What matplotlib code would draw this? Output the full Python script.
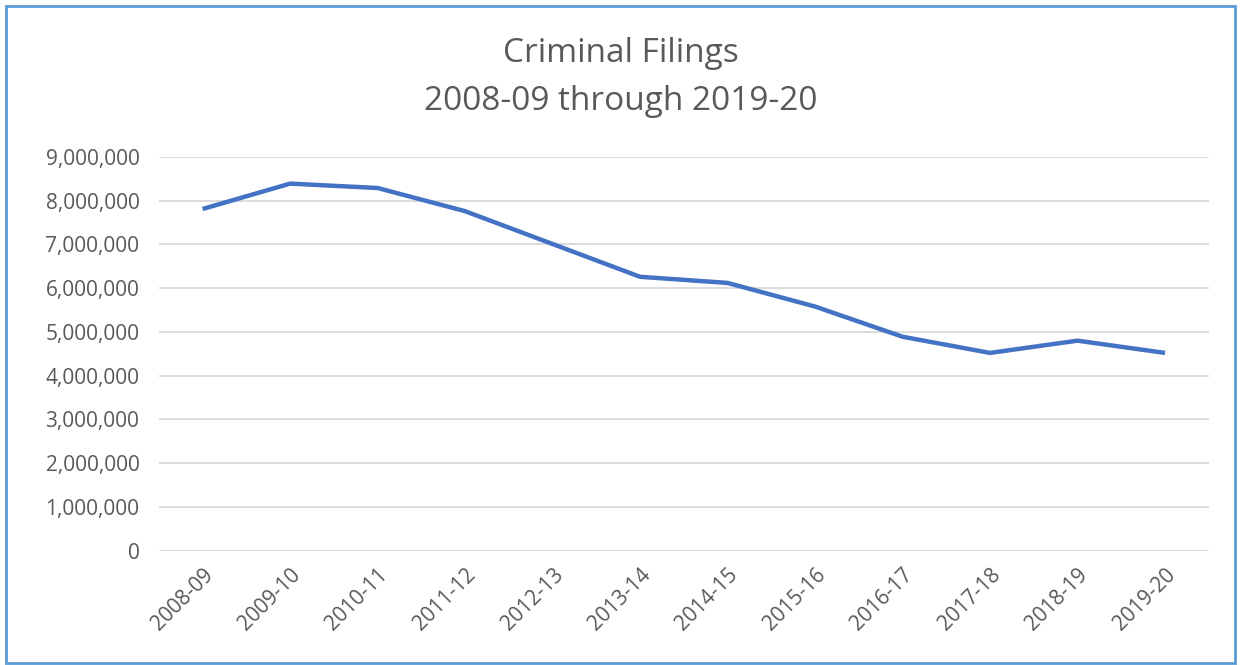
import matplotlib
matplotlib.use("Agg")
import matplotlib.pyplot as plt
from matplotlib.patches import Rectangle
from matplotlib.ticker import FuncFormatter

# --- data ---
years = ["2008-09", "2009-10", "2010-11", "2011-12", "2012-13", "2013-14",
         "2014-15", "2015-16", "2016-17", "2017-18", "2018-19", "2019-20"]
filings = [7810000, 8390000, 8290000, 7760000, 7010000, 6260000,
           6120000, 5580000, 4890000, 4520000, 4800000, 4520000]
y_ticks = list(range(0, 9000001, 1000000))

txt = "#595959"
plt.rcParams['font.family'] = ['Open Sans', 'DejaVu Sans']

fig = plt.figure(figsize=(12.41, 6.65), dpi=100)
ax = fig.add_axes([0.128, 0.172, 0.846, 0.592])

x = range(len(years))
ax.plot(x, filings, color="#4472C4", lw=3.2, solid_capstyle="butt", zorder=3)

ax.set_xlim(-0.5, len(years) - 0.5)
ax.set_ylim(0, 9000000)
ax.set_yticks(y_ticks)
ax.yaxis.set_major_formatter(FuncFormatter(lambda v, p: f"{int(v):,}"))
ax.set_xticks(list(x))
ax.set_xticklabels(years, rotation=45, ha="right", rotation_mode="anchor")

ax.grid(axis="y", color="#d9d9d9", lw=1.3)
ax.set_axisbelow(True)
for s in ax.spines.values():
    s.set_visible(False)
ax.tick_params(length=0, colors=txt, labelsize=15)
ax.tick_params(axis="y", pad=14)
ax.tick_params(axis="x", pad=10)

fig.text(0.5, 0.92, "Criminal Filings", ha="center", va="center",
         fontsize=24, color=txt)
fig.text(0.5, 0.848, "2008-09 through 2019-20", ha="center", va="center",
         fontsize=24, color=txt)

# outer frame like the screenshot
fig.patches.append(Rectangle((6 / 1241, 2 / 665), 1229 / 1241, 657 / 665,
                             transform=fig.transFigure, fill=False,
                             edgecolor="#5B9BD5", lw=2))

fig.savefig("out.png", dpi=100)
